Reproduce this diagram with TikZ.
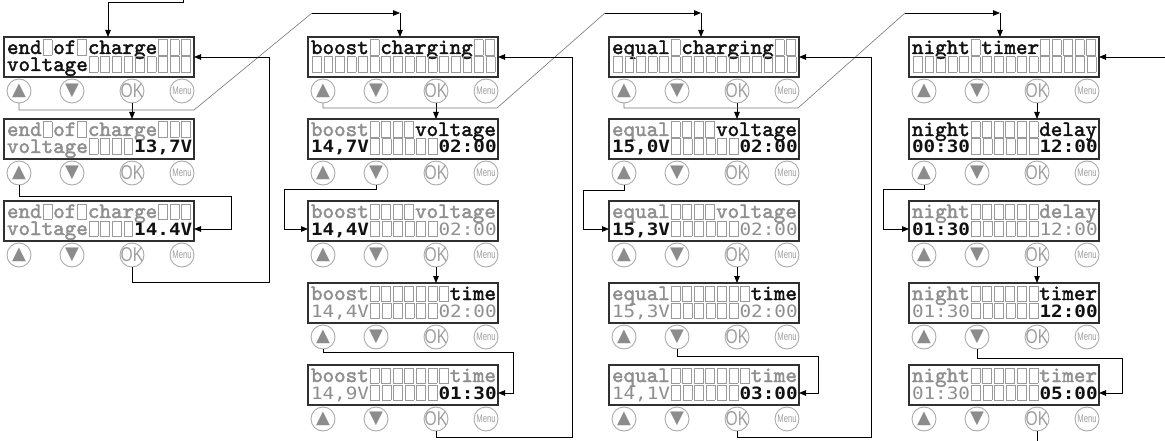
\documentclass[tikz,border=0pt]{standalone}
\usepackage{fontspec}
\usepackage{graphicx}
\usetikzlibrary{arrows.meta}
\newfontfamily\lcdfont{lmmono10-regular.otf}[FakeBold=2]
\newfontfamily\digfont{DejaVu Sans Mono}
\newfontfamily\symfont{DejaVu Sans}
\newfontfamily\btnfont{Liberation Sans}
\definecolor{txtk}{HTML}{111111}
\definecolor{txtg}{HTML}{8F8F8F}
\definecolor{cellc}{HTML}{9A9A9A}
\definecolor{frame}{HTML}{303030}
\definecolor{btnc}{HTML}{ABABAB}
\definecolor{trig}{HTML}{8C8C8C}
\definecolor{okc}{HTML}{9E9E9E}
\definecolor{gline}{HTML}{777777}
\newcommand\ec{\makebox[11.58pt]{\textcolor{cellc}{\setlength{\fboxsep}{0pt}\setlength{\fboxrule}{0.7pt}\raisebox{-0.8pt}{\fbox{\rule{0pt}{14.6pt}\rule{8.2pt}{0pt}}}}}}
\ExplSyntaxOn
\cs_new_protected:Npn \ecs #1 { \prg_replicate:nn {#1} { \ec } }
\ExplSyntaxOff
\newcommand\bk[1]{\textcolor{txtk}{\bfseries #1}}
\newcommand\gr[1]{\textcolor{txtg}{\bfseries #1}}
\newcommand\bd[1]{\textcolor{txtk}{\scalebox{1}[0.88]{\digfont\bfseries\fontsize{19.3pt}{19.3pt}\selectfont #1}}}
\newcommand\gd[1]{\textcolor{txtg}{\scalebox{1}[0.88]{\digfont\mdseries\fontsize{19.3pt}{19.3pt}\selectfont #1}}}
\newcommand\upg{{\symfont\fontsize{18pt}{18pt}\selectfont\textcolor{trig}{▲}}}
\newcommand\dng{{\symfont\fontsize{18pt}{18pt}\selectfont\textcolor{trig}{▼}}}
\newcommand\okg{{\btnfont\fontsize{20pt}{20pt}\selectfont\textcolor{okc}{\scalebox{0.78}[1]{OK}}}}
\newcommand\mng{{\btnfont\fontsize{11pt}{11pt}\selectfont\textcolor{okc}{\scalebox{0.7}[1]{Menu}}}}
\tikzset{
  dbox/.style={draw=frame, line width=1.2pt, minimum width=190pt, minimum height=40pt, anchor=north west, inner sep=0pt, outer sep=0pt},
  dtxt/.style={anchor=base west, inner sep=0pt, outer sep=0pt, font=\lcdfont\fontsize{22pt}{22pt}\selectfont},
  btn/.style={circle, draw=btnc, line width=0.9pt, minimum size=24pt, inner sep=0pt, outer sep=0pt},
  lbl/.style={inner sep=0pt, outer sep=0pt},
  arr/.style={draw=black, line width=0.8pt, -{Triangle[length=7pt,width=5.5pt]}},
  conn/.style={draw=black, line width=0.8pt},
  gconn/.style={draw=gline, line width=0.6pt},
}
\newcommand\disp[5]{%
  \node[dbox] (#1) at (#2,#3) {};
  \node[dtxt] (#1a) at ({#2+3},{#3+17}) {#4};
  \node[dtxt] (#1b) at ({#2+3},{#3+34}) {#5};
  \node[btn,label={[lbl]center:\upg}] (#1up) at ({#2+15},{#3+54}) {};
  \node[btn,label={[lbl]center:\dng}] (#1dn) at ({#2+68},{#3+54}) {};
  \node[btn,label={[lbl]center:\okg}] (#1ok) at ({#2+128},{#3+54}) {};
  \node[btn,label={[lbl]center:\mng}] (#1mn) at ({#2+178},{#3+54}) {};
}
\begin{document}
\begin{tikzpicture}[x=1pt,y=-1pt]
\fill[white] (0,0) rectangle (1165,441);
\useasboundingbox (0,0) rectangle (1165,441);
% column 1
\disp{c1r1}{4}{37}{\bk{end}\ecs{1}\bk{of}\ecs{1}\bk{charge}\ecs{3}}{\bk{voltage}\ecs{9}}
\disp{c1r2}{4}{119}{\gr{end}\ecs{1}\gr{of}\ecs{1}\gr{charge}\ecs{3}}{\gr{voltage}\ecs{4}\bd{13,7V}}
\disp{c1r3}{4}{201}{\gr{end}\ecs{1}\gr{of}\ecs{1}\gr{charge}\ecs{3}}{\gr{voltage}\ecs{4}\bd{14.4V}}
% column 2
\disp{c2r1}{308}{37}{\bk{boost}\ecs{1}\bk{charging}\ecs{2}}{\ecs{16}}
\disp{c2r2}{308}{119}{\gr{boost}\ecs{4}\bk{voltage}}{\bd{14,7V}\ecs{6}\bd{02:00}}
\disp{c2r3}{308}{201}{\gr{boost}\ecs{4}\gr{voltage}}{\bd{14,4V}\ecs{6}\gd{02:00}}
\disp{c2r4}{308}{283}{\gr{boost}\ecs{7}\bk{time}}{\gd{14,4V}\ecs{6}\gd{02:00}}
\disp{c2r5}{308}{365}{\gr{boost}\ecs{7}\gr{time}}{\gd{14,9V}\ecs{6}\bd{01:30}}
% column 3
\disp{c3r1}{609}{37}{\bk{equal}\ecs{1}\bk{charging}\ecs{2}}{\ecs{16}}
\disp{c3r2}{609}{119}{\gr{equal}\ecs{4}\bk{voltage}}{\bd{15,0V}\ecs{6}\bd{02:00}}
\disp{c3r3}{609}{201}{\gr{equal}\ecs{4}\gr{voltage}}{\bd{15,3V}\ecs{6}\gd{02:00}}
\disp{c3r4}{609}{283}{\gr{equal}\ecs{7}\bk{time}}{\gd{15,3V}\ecs{6}\gd{02:00}}
\disp{c3r5}{609}{365}{\gr{equal}\ecs{7}\gr{time}}{\gd{14,1V}\ecs{6}\bd{03:00}}
% column 4
\disp{c4r1}{909}{37}{\bk{night}\ecs{1}\bk{timer}\ecs{5}}{\ecs{16}}
\disp{c4r2}{909}{119}{\bk{night}\ecs{6}\bk{delay}}{\bd{00:30}\ecs{6}\bd{12:00}}
\disp{c4r3}{909}{201}{\gr{night}\ecs{6}\gr{delay}}{\bd{01:30}\ecs{6}\gd{12:00}}
\disp{c4r4}{909}{283}{\gr{night}\ecs{6}\bk{timer}}{\gd{01:30}\ecs{6}\bd{12:00}}
\disp{c4r5}{909}{365}{\gr{night}\ecs{6}\gr{timer}}{\gd{01:30}\ecs{6}\bd{05:00}}
% junctions and free ends
\coordinate (in1) at (183,0);
\coordinate (J2) at (400,13);
\coordinate (J3) at (701,13);
\coordinate (J4) at (1000,13);
\coordinate (in4) at (1165,57);
\coordinate (out4) at (1036,441);
% column 1 connectors
\draw[arr] (in1) -- ++(0,2) -| ([xshift=9pt]c1r1.north);
\draw[arr] (c1r1ok.south) -- (c1r1ok.south |- c1r2.north);
\draw[gconn] (c1r1up.south) |- (194,110) -- (312,13);
\draw[arr] (312,13) -- (J2);
\draw[arr] (c1r2up.south) |- (231,196) |- ([yshift=-8pt]c1r3.east);
\draw[arr] (c1r3ok.south) |- (269,282) |- (c1r1.east);
% column 2 connectors
\draw[arr] (J2) -- (J2 |- c2r1.north);
\draw[arr] (c2r1ok.south) -- (c2r1ok.south |- c2r2.north);
\draw[gconn] (c2r1up.south) |- (497,108) -- (605,13);
\draw[arr] (605,13) -- (J3);
\draw[arr] (c2r2dn.south) |- (284,189) |- ([yshift=-8pt]c2r3.west);
\draw[arr] (c2r3ok.south) -- (c2r3ok.south |- c2r4.north);
\draw[arr] (c2r4up.south) |- (513,352) |- ([yshift=-8pt]c2r5.east);
\draw[arr] (c2r5ok.south) |- (572,437) |- (c2r1.east);
% column 3 connectors
\draw[arr] (J3) -- (J3 |- c3r1.north);
\draw[arr] (c3r1ok.south) -- (c3r1ok.south |- c3r2.north);
\draw[gconn] (c3r1up.south) |- (798,108) -- (905,13);
\draw[arr] (905,13) -- (J4);
\draw[arr] (c3r2up.south) |- (583,190) |- ([yshift=-8pt]c3r3.west);
\draw[arr] (c3r3ok.south) -- (c3r3ok.south |- c3r4.north);
\draw[arr] (c3r4dn.south) |- (818,356) |- ([yshift=-8pt]c3r5.east);
\draw[arr] (c3r5ok.south) |- (871,437) |- (c3r1.east);
% column 4 connectors
\draw[arr] (J4) -- (J4 |- c4r1.north);
\draw[arr] (in4) -- (c4r1.east);
\draw[arr] (c4r1ok.south) -- (c4r1ok.south |- c4r2.north);
\draw[arr] (c4r2up.south) |- (883,189) |- ([yshift=-8pt]c4r3.west);
\draw[arr] (c4r3ok.south) -- (c4r3ok.south |- c4r4.north);
\draw[arr] (c4r4dn.south) |- (1122,358) |- ([yshift=-8pt]c4r5.east);
\draw[conn] (c4r5ok.south) -- (c4r5ok.south |- out4);
\end{tikzpicture}
\end{document}
